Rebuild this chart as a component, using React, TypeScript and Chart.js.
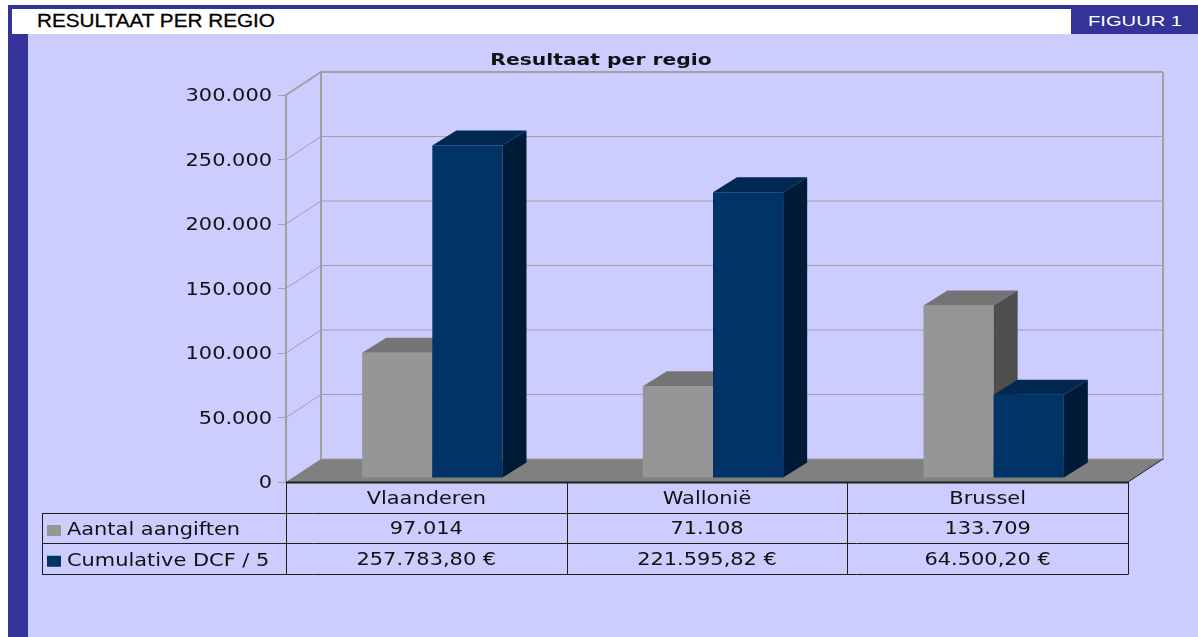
import React, { useEffect, useRef } from 'react';
import { Chart, registerables } from 'chart.js';

Chart.register(...registerables);

// ---------------- data ----------------
const categories = ['Vlaanderen', 'Wallonië', 'Brussel'];
const seriesNames = ['Aantal aangiften', 'Cumulative DCF / 5'];
const aantalAangiften = [97014, 71108, 133709];
const cumulativeDcf5 = [257783.8, 221595.82, 64500.2];
const yTickValues = [0, 50000, 100000, 150000, 200000, 250000, 300000];
const chartTitle = 'Resultaat per regio';
const headerTitle = 'RESULTAAT PER REGIO';
const figureLabel = 'FIGUUR 1';

// ---------------- styles ----------------
const FRONT = ['#969696', '#003366'];
const TOP = ['#747474', '#002852'];
const SIDE = ['#4e4e4e', '#001b37'];
const LAVENDER = '#ccccff';
const NAVY = '#333399';
const WALL_LINE = '#a0a0a0';
const TEXT = '#111111';
const FONT = "'DejaVu Sans', Verdana, sans-serif";
const SX = 1.23; // horizontal stretch of canvas text
const TEXT_DY = 2; // vertical nudge of canvas text

const WALL_DX = 35;
const WALL_DY = -23;
const BAR_OFF_DX = 6;
const BAR_OFF_DY = -4;
const BAR_DX = 24;
const BAR_DY = -15;
const ROW_H = 30.7;
const LEGEND_COL_W = 244;

function fmtInt(n: number): string {
  return Math.round(n)
    .toString()
    .replace(/\B(?=(\d{3})+(?!\d))/g, '.');
}
function fmtEur(n: number): string {
  const [i, d] = n.toFixed(2).split('.');
  return fmtInt(Number(i)) + ',' + d + ' €';
}

const rowValues = [aantalAangiften.map(fmtInt), cumulativeDcf5.map(fmtEur)];

function poly(ctx: CanvasRenderingContext2D, pts: number[][], fill: string) {
  ctx.beginPath();
  ctx.moveTo(pts[0][0], pts[0][1]);
  for (let i = 1; i < pts.length; i++) ctx.lineTo(pts[i][0], pts[i][1]);
  ctx.closePath();
  ctx.fillStyle = fill;
  ctx.fill();
}

const threeDPlugin = {
  id: 'threeD',
  beforeDatasetsDraw(chart: any) {
    const { ctx, chartArea: a } = chart;
    const ys = chart.scales.y;
    const y0 = ys.getPixelForValue(0);
    ctx.save();
    // floor
    poly(
      ctx,
      [
        [a.left, y0],
        [a.right, y0],
        [a.right + WALL_DX, y0 + WALL_DY],
        [a.left + WALL_DX, y0 + WALL_DY],
      ],
      '#808080'
    );
    // side & back wall grid lines
    ctx.strokeStyle = WALL_LINE;
    ys.ticks.forEach((t: any) => {
      const yf = ys.getPixelForValue(t.value);
      const yb = yf + WALL_DY;
      ctx.lineWidth = t.value === ys.max ? 2 : 1;
      ctx.beginPath();
      if (t.value !== 0) ctx.moveTo(a.left, yf);
      else ctx.moveTo(a.left + WALL_DX, yb);
      ctx.lineTo(a.left + WALL_DX, yb);
      ctx.lineTo(a.right + WALL_DX, yb);
      ctx.stroke();
    });
    ctx.lineWidth = 2;
    ctx.beginPath();
    ctx.moveTo(a.left + WALL_DX, a.top + WALL_DY);
    ctx.lineTo(a.left + WALL_DX, y0 + WALL_DY);
    ctx.moveTo(a.right + WALL_DX, a.top + WALL_DY);
    ctx.lineTo(a.right + WALL_DX, y0 + WALL_DY + 1);
    ctx.stroke();
    // floor right edge
    ctx.strokeStyle = '#222';
    ctx.lineWidth = 1;
    ctx.beginPath();
    ctx.moveTo(a.right, y0);
    ctx.lineTo(a.right + WALL_DX, y0 + WALL_DY);
    ctx.stroke();

    // bars
    chart.data.datasets.forEach((_: any, di: number) => {
      const meta = chart.getDatasetMeta(di);
      meta.data.forEach((el: any) => {
        const p = el.getProps(['x', 'y', 'base', 'width'], true);
        const l = p.x - p.width / 2 + BAR_OFF_DX;
        const r = p.x + p.width / 2 + BAR_OFF_DX;
        const t = p.y + BAR_OFF_DY;
        const b = p.base + BAR_OFF_DY;
        ctx.save();
        ctx.translate(BAR_OFF_DX, BAR_OFF_DY);
        el.draw(ctx);
        ctx.restore();
        poly(
          ctx,
          [
            [l, t],
            [r, t],
            [r + BAR_DX, t + BAR_DY],
            [l + BAR_DX, t + BAR_DY],
          ],
          TOP[di]
        );
        poly(
          ctx,
          [
            [r, t],
            [r + BAR_DX, t + BAR_DY],
            [r + BAR_DX, b + BAR_DY],
            [r, b],
          ],
          SIDE[di]
        );
      });
    });
    ctx.restore();
    return false;
  },
  afterDraw(chart: any) {
    const { ctx, chartArea: a } = chart;
    const xs = chart.scales.x;
    const ys = chart.scales.y;
    const y0 = ys.getPixelForValue(0);
    const colW = (a.right - a.left) / categories.length;
    const legendLeft = a.left - LEGEND_COL_W;
    ctx.save();
    // title
    ctx.fillStyle = TEXT;
    ctx.font = `bold 16.5px ${FONT}`;
    ctx.textAlign = 'center';
    ctx.textBaseline = 'middle';
    ctx.fillText(chartTitle, chart.width / 2 + 2, 25);

    // table lines
    ctx.strokeStyle = '#1e1e1e';
    ctx.lineWidth = 2;
    ctx.beginPath();
    ctx.moveTo(a.left, y0 + 0.5);
    ctx.lineTo(a.right, y0 + 0.5);
    ctx.stroke();
    ctx.lineWidth = 1;
    ctx.beginPath();
    for (let r = 1; r <= 3; r++) {
      const yy = Math.round(y0 + r * ROW_H) + 0.5;
      ctx.moveTo(legendLeft, yy);
      ctx.lineTo(a.right, yy);
    }
    for (let c = 0; c <= categories.length; c++) {
      const xx = Math.round(a.left + c * colW) + 0.5;
      ctx.moveTo(xx, y0);
      ctx.lineTo(xx, Math.round(y0 + 3 * ROW_H) + 0.5);
    }
    ctx.moveTo(legendLeft + 0.5, Math.round(y0 + ROW_H) + 0.5);
    ctx.lineTo(legendLeft + 0.5, Math.round(y0 + 3 * ROW_H) + 0.5);
    ctx.stroke();

    // table text
    ctx.font = `17px ${FONT}`;
    ctx.fillStyle = TEXT;
    ctx.textAlign = 'center';
    categories.forEach((c, i) => {
      ctx.fillText(c, xs.getPixelForValue(i), y0 + ROW_H / 2);
    });
    rowValues.forEach((vals, r) => {
      vals.forEach((v, i) => {
        ctx.fillText(v, xs.getPixelForValue(i), y0 + (r + 1.5) * ROW_H);
      });
    });
    // legend cells
    seriesNames.forEach((name, r) => {
      const cy = y0 + (r + 1.5) * ROW_H;
      ctx.fillStyle = FRONT[r];
      ctx.fillRect(legendLeft + 5, cy - 3, 14, 11);
      ctx.fillStyle = TEXT;
      ctx.textAlign = 'left';
      ctx.fillText(name, legendLeft + 25, cy + 1);
    });
    ctx.restore();
  },
};

export default function App() {
  const ref = useRef<HTMLCanvasElement | null>(null);

  useEffect(() => {
    const canvas = ref.current!;
    const ctx: any = canvas.getContext('2d');
    if (!ctx.__stretched) {
      const orig = ctx.fillText.bind(ctx);
      ctx.fillText = function (text: string, x: number, y: number, maxWidth?: number) {
        ctx.save();
        ctx.translate(x, y + TEXT_DY);
        ctx.scale(SX, 1);
        if (maxWidth !== undefined) orig(text, 0, 0, maxWidth / SX);
        else orig(text, 0, 0);
        ctx.restore();
      };
      ctx.__stretched = true;
    }
    Chart.defaults.font.family = FONT;

    const chart = new Chart(canvas, {
      type: 'bar',
      data: {
        labels: categories,
        datasets: [
          {
            label: seriesNames[0],
            data: aantalAangiften,
            backgroundColor: FRONT[0],
            borderWidth: 0,
            categoryPercentage: 0.5,
            barPercentage: 1.0,
          },
          {
            label: seriesNames[1],
            data: cumulativeDcf5,
            backgroundColor: FRONT[1],
            borderWidth: 0,
            categoryPercentage: 0.5,
            barPercentage: 1.0,
          },
        ],
      },
      options: {
        animation: false,
        responsive: false,
        events: [],
        layout: { padding: { left: 0, right: 70, top: 61, bottom: 155 } },
        plugins: {
          legend: { display: false },
          title: { display: false },
          tooltip: { enabled: false },
        },
        scales: {
          x: { display: false, offset: true },
          y: {
            min: 0,
            max: 300000,
            afterFit: (s: any) => {
              s.width = 286;
            },
            afterBuildTicks: (s: any) => {
              s.ticks = yTickValues.map((v) => ({ value: v }));
            },
            ticks: {
              callback: (v: any) => fmtInt(Number(v)),
              padding: 6,
              color: TEXT,
              font: { size: 17, family: FONT },
            },
            grid: {
              drawOnChartArea: false,
              drawTicks: true,
              tickLength: 8,
              color: WALL_LINE,
            },
            border: { display: true, color: WALL_LINE, width: 2 },
          },
        },
      },
      plugins: [threeDPlugin],
    } as any);
    return () => chart.destroy();
  }, []);

  return (
    <div
      style={{
        position: 'absolute',
        left: 0,
        top: 0,
        width: 1198,
        height: 637,
        background: '#ffffff',
        overflow: 'hidden',
      }}
    >
      <div style={{ position: 'absolute', left: 8, top: 5, width: 1190, height: 29, background: NAVY }} />
      <div style={{ position: 'absolute', left: 12, top: 9, width: 1059, height: 25, background: '#ffffff' }} />
      <div
        style={{
          position: 'absolute',
          left: 37,
          top: 12,
          fontFamily: "'Liberation Sans', Arial, sans-serif",
          fontSize: '18.5px',
          lineHeight: '18.5px',
          color: '#000',
          whiteSpace: 'nowrap',
          transform: 'scaleX(1.12)',
          transformOrigin: 'left top',
          WebkitTextStroke: '0.3px #000',
        }}
      >
        {headerTitle}
      </div>
      <div
        style={{
          position: 'absolute',
          left: 1088,
          top: 13,
          fontFamily: "'Liberation Sans', Arial, sans-serif",
          fontSize: '15.5px',
          lineHeight: '15.5px',
          color: '#ffffff',
          whiteSpace: 'nowrap',
          transform: 'scaleX(1.3)',
          transformOrigin: 'left top',
        }}
      >
        {figureLabel}
      </div>
      <div style={{ position: 'absolute', left: 8, top: 34, width: 20, height: 603, background: NAVY }} />
      <div style={{ position: 'absolute', left: 28, top: 34, width: 1170, height: 603, background: LAVENDER }} />
      <canvas
        ref={ref}
        width={1198}
        height={603}
        style={{ position: 'absolute', left: 0, top: 34, width: 1198, height: 603 }}
      />
    </div>
  );
}
